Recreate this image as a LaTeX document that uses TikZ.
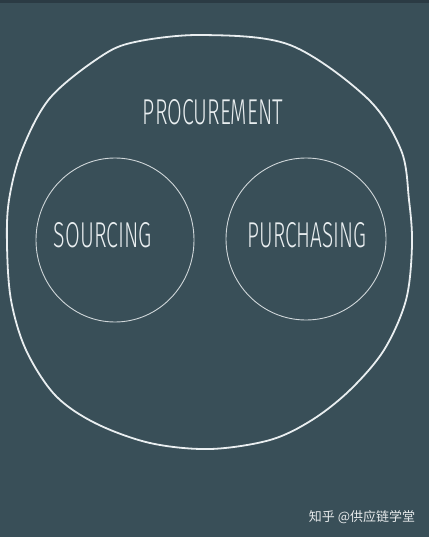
\documentclass[tikz,border=0pt]{standalone}
\usepackage{fontspec}
\usepackage{graphicx}
\setsansfont{Fira Sans Light}[FakeStretch=0.6]
\newfontfamily\cjkfont{Noto Sans CJK SC}
\definecolor{slate}{HTML}{394F58}
\definecolor{slatedark}{HTML}{2B3B44}
\definecolor{chalk}{HTML}{E9EEF0}
\newcommand{\chalktext}[2]{\resizebox{#1pt}{25pt}{\sffamily #2}}
\tikzset{
  blob/.style={draw=chalk, line width=1.8pt},
  bubble/.style={draw=chalk!85!slate, line width=0.9pt},
  label/.style={text=chalk, inner sep=0pt}
}
\begin{document}
\begin{tikzpicture}[x=1pt,y=-1pt]
  % background
  \fill[slate] (0,0) rectangle (429,537);
  \fill[slatedark] (0,0) rectangle (429,3);
  \useasboundingbox (0,0) rectangle (429,537);

  % draw procurement
  \draw[blob] plot[smooth cycle, tension=0.55] coordinates {
    (203,35) (290,45) (367,98) (401,150) (409,200) (412,245)
    (406,300) (384,350) (350,390) (312,420) (270,440) (210,449)
    (150,443) (95,423) (55,395) (26,350) (11,300) (7,245)
    (9,200) (22,150) (50,98) (100,57) (135,42)};
  \node[label] (procurement) at (213,112.5) {\chalktext{140}{PROCUREMENT}};

  % draw sourcing / purchasing
  \draw[bubble] (115,240) ellipse (79 and 82);
  \draw[bubble] (306,239) ellipse (80 and 81);
  \node[label] (sourcing)   at (103,235.5) {\chalktext{98}{SOURCING}};
  \node[label] (purchasing) at (307,235.5) {\chalktext{119}{PURCHASING}};

  % watermark
  \node[text=white!88!slate, font=\cjkfont\fontsize{13}{15}\selectfont] (mark) at (362,517) {知乎 @供应链学堂};
\end{tikzpicture}
\end{document}
